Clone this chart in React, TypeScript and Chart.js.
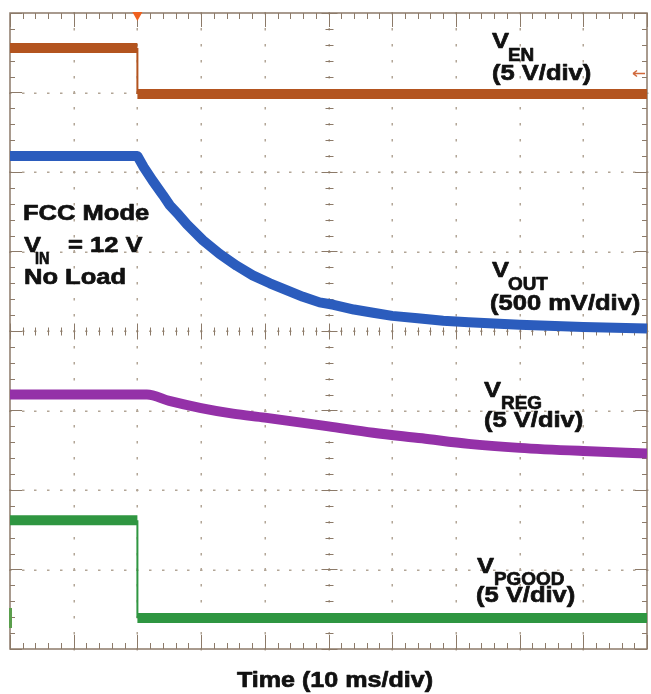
import React, { useEffect, useRef } from "react";
import { Chart, registerables } from "chart.js";

Chart.register(...registerables);

const W = 651;
const H = 694;

// Time axis in ms (10 ms/div), trigger at t = 0
const X_MIN = -20;
const X_MAX = 80;
// Vertical axis in screen divisions from centre
const Y_MIN = -4;
const Y_MAX = 4;
const xMajorTicks = [-20, -10, 0, 10, 20, 30, 40, 50, 60, 70, 80];
const yMajorTicks = [-4, -3, -2, -1, 0, 1, 2, 3, 4];
const MINOR_PER_DIV = 5;

// V_EN (5 V/div)
const enTime = [-20, 0, 0, 80];
const enDiv = [3.56, 3.56, 2.98, 2.98];

// V_OUT (500 mV/div)
const outTime = [-20, 0, 1, 2.4, 4, 5.1, 6.5, 7.8, 10.3, 12.9, 15.6, 18.1, 20.8, 23.5, 26, 28.6, 30.8, 34, 37, 40, 44, 48, 52, 60, 70, 80];
const outDiv = [2.2, 2.2, 2.06, 1.89, 1.71, 1.58, 1.46, 1.34, 1.14, 0.97, 0.82, 0.7, 0.6, 0.51, 0.43, 0.36, 0.33, 0.27, 0.23, 0.19, 0.16, 0.13, 0.11, 0.08, 0.05, 0.03];

// V_REG (5 V/div)
const regTime = [-20, 1.5, 5, 10, 15, 20, 30, 37, 44.7, 52, 60, 70, 80];
const regDiv = [-0.8, -0.8, -0.88, -0.97, -1.04, -1.09, -1.2, -1.28, -1.35, -1.42, -1.47, -1.51, -1.54];

// V_PGOOD (5 V/div)
const pgTime = [-20, 0, 0, 80];
const pgDiv = [-2.38, -2.38, -3.61, -3.61];

const trigLevelDiv = 3.25;
const pgGroundDiv = -3.61;

const BROWN = "#b3541f";
const BLUE = "#2b5cbd";
const PURPLE = "#9431a8";
const GREEN = "#2f9641";
const FRAME = "#8c7a69";
const DOT = "#b2a596";
const ORANGE = "#f0601e";

const FONT = '"Liberation Sans", Arial, Helvetica, sans-serif';

function txt(ctx: CanvasRenderingContext2D, s: string, x: number, y: number, size: number, sx: number, align: CanvasTextAlign = "left") {
  ctx.save();
  ctx.font = `bold ${size}px ${FONT}`;
  ctx.textBaseline = "alphabetic";
  ctx.fillStyle = "#111111";
  ctx.strokeStyle = "#111111";
  ctx.lineWidth = 0.7;
  ctx.lineJoin = "round";
  const w = ctx.measureText(s).width * sx;
  let x0 = x;
  if (align === "center") x0 = x - w / 2;
  if (align === "right") x0 = x - w;
  ctx.translate(x0, y);
  ctx.scale(sx, 1);
  ctx.textAlign = "left";
  ctx.fillText(s, 0, 0);
  ctx.strokeText(s, 0, 0);
  ctx.restore();
  return w;
}

const graticule = {
  id: "graticule",
  beforeDatasetsDraw(chart: any) {
    const ctx: CanvasRenderingContext2D = chart.ctx;
    const { left, right, top, bottom } = chart.chartArea;
    const xs = chart.scales.x;
    const ys = chart.scales.y;
    ctx.save();
    // dotted grid lines
    ctx.fillStyle = DOT;
    const xStep = (xMajorTicks[1] - xMajorTicks[0]) / MINOR_PER_DIV;
    const yStep = (yMajorTicks[1] - yMajorTicks[0]) / MINOR_PER_DIV;
    for (const xv of xMajorTicks.slice(1, -1)) {
      const px = Math.round(xs.getPixelForValue(xv));
      for (let yv = Y_MIN; yv <= Y_MAX + 1e-9; yv += yStep) {
        const py = Math.round(ys.getPixelForValue(yv));
        ctx.fillRect(px - 0.5, py - 1, 1.5, 2.5);
      }
    }
    for (const yv of yMajorTicks.slice(1, -1)) {
      const py = Math.round(ys.getPixelForValue(yv));
      for (let xv = X_MIN; xv <= X_MAX + 1e-9; xv += xStep) {
        const px = Math.round(xs.getPixelForValue(xv));
        ctx.fillRect(px - 1, py - 0.5, 2.5, 1.5);
      }
    }
    // frame
    ctx.strokeStyle = FRAME;
    ctx.lineWidth = 1.5;
    ctx.strokeRect(left, top, right - left, bottom - top);
    ctx.lineWidth = 1;
    ctx.beginPath();
    const cx = Math.round(xs.getPixelForValue((X_MIN + X_MAX) / 2)) + 0.5;
    const cy = Math.round(ys.getPixelForValue(0)) + 0.5;
    let i = 0;
    for (let xv = X_MIN; xv <= X_MAX + 1e-9; xv += xStep, i++) {
      const px = Math.round(xs.getPixelForValue(xv)) + 0.5;
      const major = i % MINOR_PER_DIV === 0;
      const len = major ? 14 : 6;
      ctx.moveTo(px, top);
      ctx.lineTo(px, top + len);
      ctx.moveTo(px, bottom);
      ctx.lineTo(px, bottom - len);
      const cl = major ? 8 : 4;
      ctx.moveTo(px, cy - cl);
      ctx.lineTo(px, cy + cl);
    }
    i = 0;
    for (let yv = Y_MIN; yv <= Y_MAX + 1e-9; yv += yStep, i++) {
      const py = Math.round(ys.getPixelForValue(yv)) + 0.5;
      const major = i % MINOR_PER_DIV === 0;
      const len = major ? 12 : 5;
      ctx.moveTo(left, py);
      ctx.lineTo(left + len, py);
      ctx.moveTo(right, py);
      ctx.lineTo(right - len, py);
      const cl = major ? 8 : 4;
      ctx.moveTo(cx - cl, py);
      ctx.lineTo(cx + cl, py);
    }
    ctx.stroke();
    ctx.restore();
  },
  afterDatasetsDraw(chart: any) {
    const ctx: CanvasRenderingContext2D = chart.ctx;
    const { right, top, left } = chart.chartArea;
    const xs = chart.scales.x;
    const ys = chart.scales.y;
    ctx.save();
    // trigger position marker
    const tx = xs.getPixelForValue(0);
    ctx.fillStyle = ORANGE;
    ctx.beginPath();
    ctx.moveTo(tx - 5, top - 1);
    ctx.lineTo(tx + 5, top - 1);
    ctx.lineTo(tx, top + 8);
    ctx.closePath();
    ctx.fill();
    // trigger level arrow
    const ty = Math.round(ys.getPixelForValue(trigLevelDiv)) + 0.5;
    ctx.strokeStyle = "#d0683a";
    ctx.lineWidth = 1.5;
    ctx.beginPath();
    ctx.moveTo(right - 14, ty);
    ctx.lineTo(right - 2, ty);
    ctx.moveTo(right - 14, ty);
    ctx.lineTo(right - 10, ty - 3);
    ctx.moveTo(right - 14, ty);
    ctx.lineTo(right - 10, ty + 3);
    ctx.stroke();
    // PGOOD ground marker
    const gy = ys.getPixelForValue(pgGroundDiv);
    ctx.fillStyle = "#5a9e4c";
    ctx.fillRect(left - 1, gy - 10, 3, 20);
    ctx.restore();

    // annotations
    const S = 22;
    const SX = 1.16;
    const SS = 18;
    const SSX = 1.05;
    txt(ctx, "V", 492, 48, S, SX);
    txt(ctx, "EN", 508, 61, SS, SSX);
    txt(ctx, "(5 V/div)", 492, 80, S, SX);

    txt(ctx, "V", 492, 277, S, SX);
    txt(ctx, "OUT", 508, 290, SS, SSX);
    txt(ctx, "(500 mV/div)", 490, 310, S, SX);

    txt(ctx, "V", 484, 397, S, SX);
    txt(ctx, "REG", 501, 409, SS, SSX);
    txt(ctx, "(5 V/div)", 484, 427, S, SX);

    txt(ctx, "V", 477, 573, S, SX);
    txt(ctx, "PGOOD", 494, 585, SS, SSX);
    txt(ctx, "(5 V/div)", 476, 602, S, SX);

    txt(ctx, "FCC Mode", 23, 220, S, SX);
    txt(ctx, "V", 24, 252, S, SX);
    txt(ctx, "IN", 35, 264, 16, 0.9);
    txt(ctx, "= 12 V", 68, 252, S, SX);
    txt(ctx, "No Load", 24, 284, S, SX);

    txt(ctx, "Time (10 ms/div)", 335, 687, S, 1.14, "center");
  },
};

function series(t: number[], v: number[]) {
  return t.map((x, i) => ({ x, y: v[i] }));
}

const thin = (ctx: any) => (ctx.p0.parsed.x === ctx.p1.parsed.x ? 2 : 10);

export default function App() {
  const ref = useRef<HTMLCanvasElement | null>(null);
  useEffect(() => {
    if (!ref.current) return;
    const chart = new Chart(ref.current, {
      type: "line",
      data: {
        datasets: [
          {
            label: "V_EN",
            data: series(enTime, enDiv),
            borderColor: BROWN,
            borderWidth: 10,
            pointRadius: 0,
            tension: 0,
            borderCapStyle: "butt",
            segment: { borderWidth: thin },
          },
          {
            label: "V_OUT",
            data: series(outTime, outDiv),
            borderColor: BLUE,
            borderWidth: 10,
            pointRadius: 0,
            tension: 0,
            borderJoinStyle: "round",
            borderCapStyle: "butt",
          },
          {
            label: "V_REG",
            data: series(regTime, regDiv),
            borderColor: PURPLE,
            borderWidth: 10,
            pointRadius: 0,
            cubicInterpolationMode: "monotone",
            borderCapStyle: "butt",
          },
          {
            label: "V_PGOOD",
            data: series(pgTime, pgDiv),
            borderColor: GREEN,
            borderWidth: 10,
            pointRadius: 0,
            tension: 0,
            borderCapStyle: "butt",
            segment: { borderWidth: thin },
          },
        ],
      },
      options: {
        responsive: false,
        animation: false,
        devicePixelRatio: 1,
        layout: { padding: { left: 10, top: 13, right: 4, bottom: 45 } },
        plugins: { legend: { display: false }, tooltip: { enabled: false } },
        scales: {
          x: { type: "linear", min: X_MIN, max: X_MAX, display: false },
          y: { type: "linear", min: Y_MIN, max: Y_MAX, display: false },
        },
      } as any,
      plugins: [graticule],
    });
    return () => chart.destroy();
  }, []);
  return (
    <div style={{ position: "fixed", left: 0, top: 0, width: W, height: H, background: "#ffffff" }}>
      <canvas ref={ref} width={W} height={H} style={{ width: W, height: H, display: "block" }} />
    </div>
  );
}
